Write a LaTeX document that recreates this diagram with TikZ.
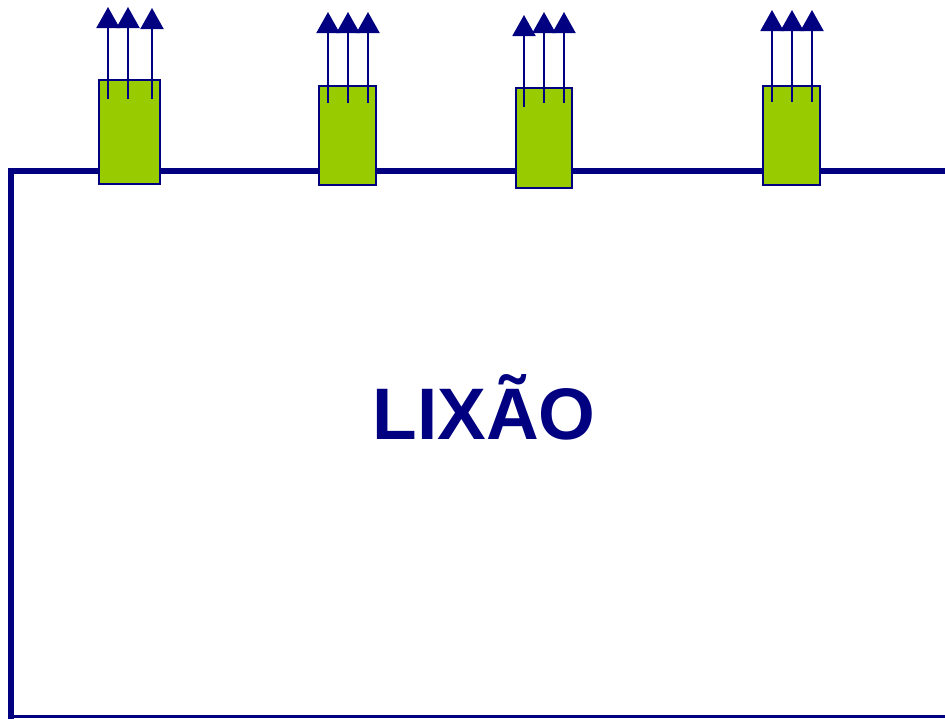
\documentclass[tikz,border=0pt]{standalone}
\usepackage{fontspec}
\setmainfont{Liberation Sans}
\usetikzlibrary{arrows.meta}
\definecolor{navy}{RGB}{0,0,128}
\definecolor{leaf}{RGB}{153,204,0}
\begin{document}
\begin{tikzpicture}[
        x=1pt, y=-1pt,
        wall/.style={draw=navy, line width=6pt},
        vent/.style={rectangle, draw=navy, fill=leaf, line width=1.5pt, inner sep=0pt},
        arrow/.style={-{Triangle[length=21pt, width=23pt]}, draw=navy, fill=navy, line width=2pt},
        title/.style={font=\fontsize{73}{80}\selectfont\bfseries, text=navy, anchor=base}
    ]
        \useasboundingbox (0,0) rectangle (945,718);

        % outline of the dump
        \coordinate (nw) at (11,171);
        \coordinate (ne) at (948,171);
        \coordinate (sw) at (11,716);
        \coordinate (se) at (948,716);
        \draw[wall, line cap=rect] (ne) -- (nw) -- (sw);
        \draw[draw=navy, line width=3pt] (sw) -- (se);

        \node[title] (lixao) at (484,439) {LIXÃO};

        % gas vents
        \node[vent, minimum width=61pt, minimum height=104pt] (v1) at (129.5,132) {};
        \node[vent, minimum width=57pt, minimum height=99pt] (v2) at (347.5,135.5) {};
        \node[vent, minimum width=56pt, minimum height=100pt] (v3) at (544,138) {};
        \node[vent, minimum width=57pt, minimum height=99pt] (v4) at (791.5,135.5) {};

        \coordinate (v1a) at (108,99);  \coordinate (t1a) at (108,7);
        \coordinate (v1b) at (128,99);  \coordinate (t1b) at (128,7);
        \coordinate (v1c) at (152,99);  \coordinate (t1c) at (152,8);

        \coordinate (v2a) at (328,103); \coordinate (t2a) at (328,12);
        \coordinate (v2b) at (348,103); \coordinate (t2b) at (348,12);
        \coordinate (v2c) at (368,103); \coordinate (t2c) at (368,12);

        \coordinate (v3a) at (524,107); \coordinate (t3a) at (524,15);
        \coordinate (v3b) at (544,103); \coordinate (t3b) at (544,12);
        \coordinate (v3c) at (564,103); \coordinate (t3c) at (564,12);

        \coordinate (v4a) at (772,102); \coordinate (t4a) at (772,10);
        \coordinate (v4b) at (792,102); \coordinate (t4b) at (792,10);
        \coordinate (v4c) at (812,102); \coordinate (t4c) at (812,10);

        \draw[arrow] (v1a) -- (t1a);
        \draw[arrow] (v1b) -- (t1b);
        \draw[arrow] (v1c) -- (t1c);
        \draw[arrow] (v2a) -- (t2a);
        \draw[arrow] (v2b) -- (t2b);
        \draw[arrow] (v2c) -- (t2c);
        \draw[arrow] (v3a) -- (t3a);
        \draw[arrow] (v3b) -- (t3b);
        \draw[arrow] (v3c) -- (t3c);
        \draw[arrow] (v4a) -- (t4a);
        \draw[arrow] (v4b) -- (t4b);
        \draw[arrow] (v4c) -- (t4c);
    \end{tikzpicture}
\end{document}
